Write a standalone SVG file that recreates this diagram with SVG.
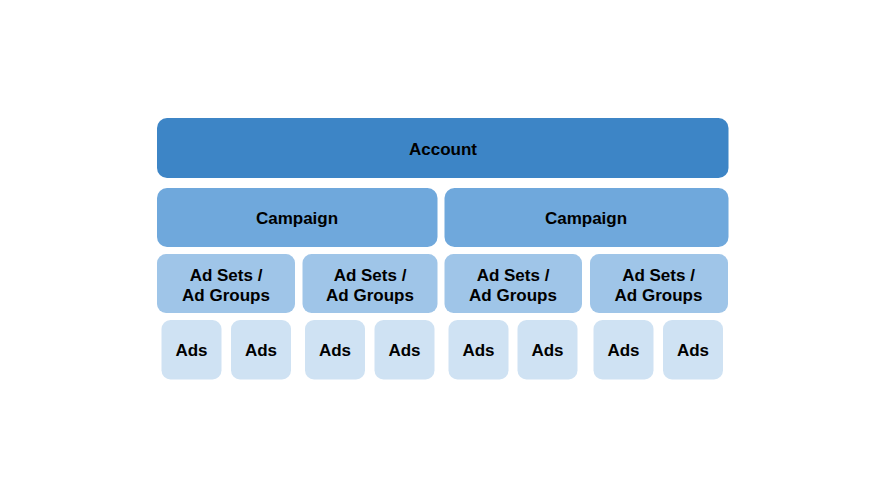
<svg xmlns="http://www.w3.org/2000/svg" width="886" height="498" viewBox="0 0 886 498">
<style>
text{font-family:"Liberation Sans",Arial,sans-serif;font-weight:bold;font-size:17px;fill:#000;text-anchor:middle}
.acc{fill:#3d85c6}
.cmp{fill:#6fa8dc}
.set{fill:#9fc5e8}
.ads{fill:#cfe2f3}
</style>
<rect width="886" height="498" fill="#fff"/>
<g id="account"><rect class="acc" x="157" y="118" width="571.5" height="60" rx="10"/><text x="443" y="155">Account</text></g>
<g id="campaign1"><rect class="cmp" x="157" y="188" width="280.5" height="59" rx="10"/><text x="297" y="224">Campaign</text></g>
<g id="campaign2"><rect class="cmp" x="444.5" y="188" width="284" height="59" rx="10"/><text x="586" y="224">Campaign</text></g>
<g id="adset1"><rect class="set" x="157" y="254" width="138" height="59" rx="9"/><text x="226" y="280.5">Ad Sets /</text><text x="226" y="300.5">Ad Groups</text></g>
<g id="adset2"><rect class="set" x="302.5" y="254" width="135" height="59" rx="9"/><text x="370" y="280.5">Ad Sets /</text><text x="370" y="300.5">Ad Groups</text></g>
<g id="adset3"><rect class="set" x="444.5" y="254" width="137.5" height="59" rx="9"/><text x="513" y="280.5">Ad Sets /</text><text x="513" y="300.5">Ad Groups</text></g>
<g id="adset4"><rect class="set" x="590" y="254" width="138" height="59" rx="9"/><text x="658.5" y="280.5">Ad Sets /</text><text x="658.5" y="300.5">Ad Groups</text></g>
<g id="ads1"><rect class="ads" x="161.5" y="320" width="60" height="59.5" rx="9"/><text x="191.5" y="355.7">Ads</text></g>
<g id="ads2"><rect class="ads" x="231" y="320" width="60" height="59.5" rx="9"/><text x="261" y="355.7">Ads</text></g>
<g id="ads3"><rect class="ads" x="305" y="320" width="60" height="59.5" rx="9"/><text x="335" y="355.7">Ads</text></g>
<g id="ads4"><rect class="ads" x="374.5" y="320" width="60" height="59.5" rx="9"/><text x="404.5" y="355.7">Ads</text></g>
<g id="ads5"><rect class="ads" x="448.5" y="320" width="60" height="59.5" rx="9"/><text x="478.5" y="355.7">Ads</text></g>
<g id="ads6"><rect class="ads" x="517.5" y="320" width="60" height="59.5" rx="9"/><text x="547.5" y="355.7">Ads</text></g>
<g id="ads7"><rect class="ads" x="593.5" y="320" width="60" height="59.5" rx="9"/><text x="623.5" y="355.7">Ads</text></g>
<g id="ads8"><rect class="ads" x="663" y="320" width="60" height="59.5" rx="9"/><text x="693" y="355.7">Ads</text></g>
<g id="connectors"></g>
</svg>
